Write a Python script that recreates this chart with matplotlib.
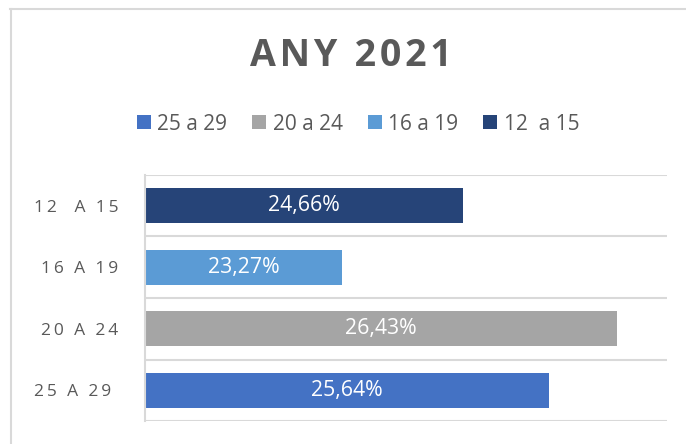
import matplotlib
matplotlib.use("Agg")
import matplotlib.pyplot as plt
from matplotlib.lines import Line2D
from matplotlib.patches import Patch

# ── Data ─────────────────────────────────────────────────────────────────────
categories = ["12  A 15", "16 A 19", "20 A 24", "25 A 29 "]
values     = [24.66, 23.27, 26.43, 25.64]
colors     = ["#264478", "#5B9BD5", "#A5A5A5", "#4472C4"]
legend_lbl = ["25 a 29", "20 a 24", "16 a 19", "12  a 15"]
legend_col = ["#4472C4", "#A5A5A5", "#5B9BD5", "#264478"]
x_min, x_max = 21, 27

TXT = "#595959"
GRID = "#D9D9D9"
FAM = ["Open Sans", "DejaVu Sans"]
plt.rcParams["font.family"] = FAM


def spaced(s, sep="\u2009"):
    return sep.join(s)


fig = plt.figure(figsize=(6.86, 4.44), dpi=100)
ax = fig.add_axes([145 / 686, 23 / 444, 522 / 686, 246 / 444])

ypos = list(range(len(categories)))
ax.barh(ypos, [v - x_min for v in values], left=x_min, height=0.57, color=colors)
for y, v in zip(ypos, values):
    ax.text((x_min + v) / 2, y, f"{v:.2f}%".replace(".", ","), color="white",
            ha="center", va="center", fontsize=15.3)

ax.set_xlim(x_min, x_max)
ax.set_ylim(len(categories) - 0.5, -0.5)
ax.set_xticks([])
ax.set_yticks(ypos)
ax.set_yticklabels([spaced(c) for c in categories], color=TXT, fontsize=12.5)
ax.tick_params(axis="y", length=0, pad=19)
ax.set_yticks([i - 0.5 for i in range(len(categories) + 1)], minor=True)
ax.tick_params(axis="y", which="minor", length=0)
ax.grid(axis="y", which="minor", color=GRID, lw=1.5)
ax.set_axisbelow(True)
for side in ["top", "right", "bottom"]:
    ax.spines[side].set_visible(False)
ax.spines["left"].set_color(GRID)
ax.spines["left"].set_linewidth(1.5)

# title
fig.text(351 / 686, 1 - 56 / 444, spaced("ANY 2021", "\u200a"), ha="center", va="center",
         fontsize=27, fontweight="bold", color=TXT)

# legend
handles = [Patch(facecolor=c, edgecolor="none") for c in legend_col]
fig.legend(handles, legend_lbl, loc="center", bbox_to_anchor=(358 / 686, 1 - 124 / 444),
           ncol=4, frameon=False, fontsize=15, labelcolor=TXT,
           handlelength=0.68, handleheight=0.68, handletextpad=0.3, columnspacing=1.2,
           borderpad=0, borderaxespad=0)

# chart area border (top and left visible in crop)
fig.add_artist(Line2D([10 / 686, 1], [1 - 9.5 / 444, 1 - 9.5 / 444], color=GRID, lw=1.5,
                      transform=fig.transFigure))
fig.add_artist(Line2D([10.5 / 686, 10.5 / 686], [0, 1 - 9.5 / 444], color=GRID, lw=1.5,
                      transform=fig.transFigure))

fig.savefig("out.png", dpi=100)
